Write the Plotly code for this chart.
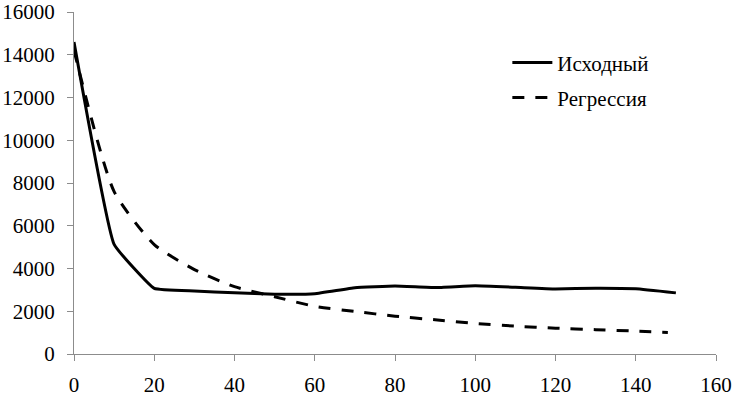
import plotly.graph_objects as go

x_orig = [0, 10, 20, 30, 40, 50, 60, 70, 80, 90, 100, 110, 120, 130, 140, 150]
y_orig = [14600, 5130, 3070, 2950, 2860, 2800, 2820, 3100, 3180, 3110, 3190, 3120, 3040, 3080, 3050, 2860]

x_reg = [0, 10, 20, 30, 40, 50, 60, 70, 80, 90, 100, 110, 120, 130, 140, 148]
y_reg = [14200, 7600, 5120, 3950, 3150, 2680, 2230, 1990, 1770, 1600, 1430, 1300, 1210, 1140, 1070, 1010]

name_orig = "Исходный"
name_reg = "Регрессия"

x_ticks = [0, 20, 40, 60, 80, 100, 120, 140, 160]
y_ticks = [0, 2000, 4000, 6000, 8000, 10000, 12000, 14000, 16000]

font_family = "'Times New Roman', 'Liberation Serif', 'DejaVu Serif', serif"

fig = go.Figure()
fig.add_trace(go.Scatter(x=x_orig, y=y_orig, mode="lines", name=name_orig, legend="legend",
                         line=dict(color="black", width=3, shape="spline", smoothing=0.3)))
fig.add_trace(go.Scatter(x=x_reg, y=y_reg, mode="lines", name=name_reg, legend="legend2",
                         line=dict(color="black", width=3, dash="12px,11px", shape="spline", smoothing=0.6)))

axis_common = dict(showgrid=False, zeroline=False, showline=True, linecolor="#8c8c8c", linewidth=1,
                   ticks="outside", tickcolor="#8c8c8c", ticklen=6, tickwidth=1, automargin=False,
                   tickfont=dict(family=font_family, size=21, color="black"))

fig.update_xaxes(range=[0, 160], tickvals=x_ticks, ticktext=[str(v) for v in x_ticks],
                 ticklabelstandoff=6, **axis_common)
fig.update_yaxes(range=[0, 16000], tickvals=y_ticks, ticktext=[str(v) for v in y_ticks],
                 ticklabelstandoff=8, **axis_common)

leg_common = dict(x=0.675, xanchor="left", yanchor="middle", bgcolor="rgba(0,0,0,0)",
                  font=dict(family=font_family, size=21, color="black"), itemwidth=40)

fig.update_layout(
    width=734, height=396,
    margin=dict(l=74, r=18, t=12, b=42),
    paper_bgcolor="white", plot_bgcolor="white",
    font=dict(family=font_family, size=21, color="black"),
    showlegend=True,
    legend=dict(y=0.851, **leg_common),
    legend2=dict(y=0.749, **leg_common),
)

fig.write_html("out.html", config={"displayModeBar": False},
               post_script="document.body.style.margin='0';document.body.style.overflow='hidden';")
